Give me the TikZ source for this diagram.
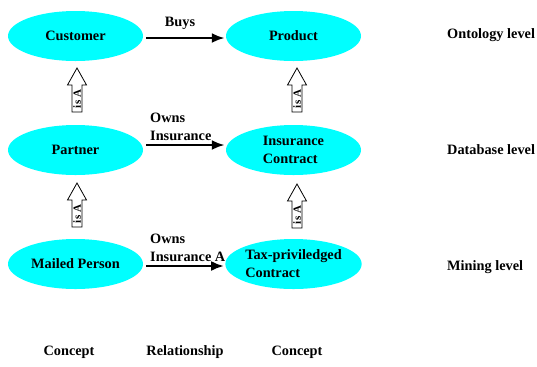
\documentclass[tikz,border=0pt]{standalone}
\usepackage{fontspec}
\setmainfont{Liberation Serif}
\usetikzlibrary{arrows.meta,calc,shapes.geometric}
\definecolor{aqua}{RGB}{0,255,255}
\begin{document}
\begin{tikzpicture}[x=1bp,y=-1bp,
  concept/.style={ellipse, fill=aqua, minimum width=135bp, minimum height=50bp,
    inner sep=0pt, align=left, font=\bfseries\fontsize{14.3bp}{18bp}\selectfont},
  txt/.style={inner sep=0pt, align=left, font=\bfseries\fontsize{14.3bp}{18bp}\selectfont},
  rel/.style={line width=2.6bp, -{Latex[length=13bp,width=10bp]},
    shorten <=3bp, shorten >=1bp},
  isa/.pic={
    \draw[fill=white, line width=0.8bp]
      (0,-22) -- (9.5,-5) -- (5,-5) -- (5,22) -- (-5,22) -- (-5,-5) -- (-9.5,-5) -- cycle;
    \node[rotate=90, inner sep=0pt, font=\bfseries\fontsize{11bp}{12bp}\selectfont] at (0,9) {is A};
  }]
\useasboundingbox (0,0) rectangle (537,366);

% concepts
\node[concept] (cust) at (75.5,36)  {Customer};
\node[concept] (prod) at (293.5,36) {Product};
\node[concept] (part) at (75.5,150) {Partner};
\node[concept] (insc) at (293.5,150) {Insurance\\Contract};
\node[concept] (mail) at (75.5,264) {Mailed Person};
\node[concept] (taxc) at (293.5,264) {Tax-priviledged\\Contract};

% relationships (yshift is in page direction: positive moves up)
\draw[rel] ([yshift=-2bp]cust.east) -- ([yshift=-2bp]prod.west);
\node[txt] (buys) at (180,23) {Buys};
\draw[rel] ([yshift=5bp]part.east) -- ([yshift=5bp]insc.west);
\node[txt, anchor=west] (ownsins) at (150,127) {Owns\\Insurance};
\draw[rel] ([yshift=-2bp]mail.east) -- ([yshift=-2bp]taxc.west);
\node[txt, anchor=west] (ownsinsa) at (150,247.5) {Owns\\Insurance A};

% generalisation arrows
\coordinate (isa1) at ($(part.north)!0.5!(cust.south)+(1.5,-3)$);
\coordinate (isa2) at ($(insc.north)!0.5!(prod.south)+(3.5,-3)$);
\coordinate (isa3) at ($(mail.north)!0.5!(part.south)+(1.5,-2)$);
\coordinate (isa4) at ($(taxc.north)!0.5!(insc.south)+(3.5,-1)$);
\pic at (isa1) {isa};
\pic at (isa2) {isa};
\pic at (isa3) {isa};
\pic at (isa4) {isa};

% levels
\node[txt, anchor=west] (ont) at (447,35)  {Ontology level};
\node[txt, anchor=west] (db)  at (447,150) {Database level};
\node[txt, anchor=west] (min) at (447,267) {Mining level};

% column headings
\node[txt] (colA) at (69,352)  {Concept};
\node[txt] (colB) at (185,352) {Relationship};
\node[txt] (colC) at (297,352) {Concept};
\end{tikzpicture}
\end{document}
